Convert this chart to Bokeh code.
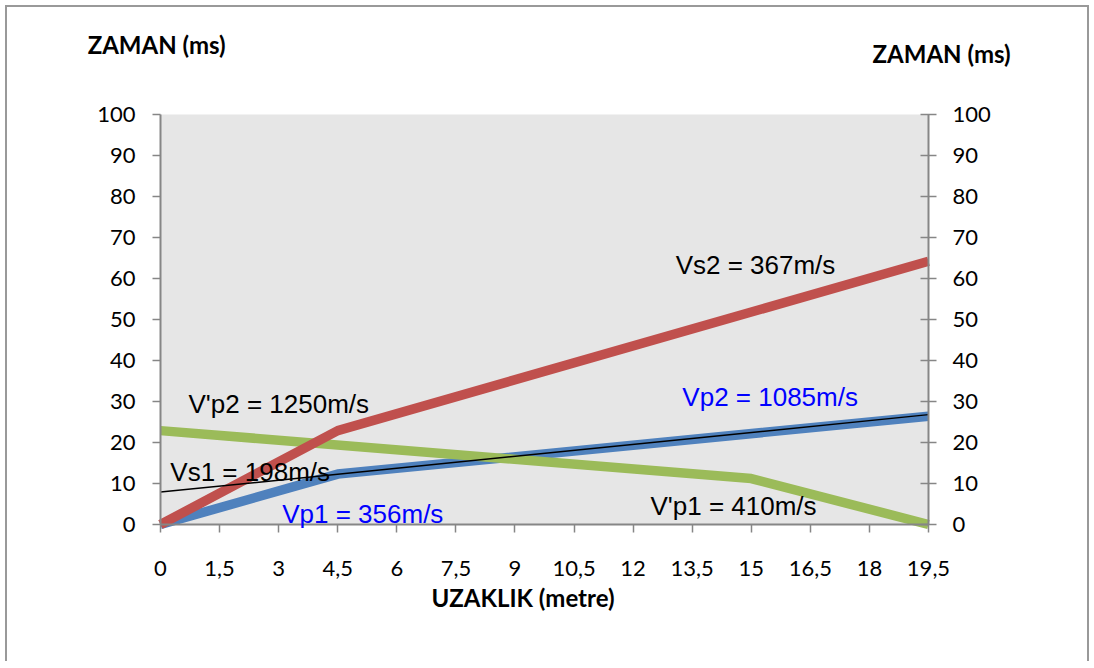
from bokeh.plotting import figure
from bokeh.models import (Range1d, LinearAxis, FixedTicker, SingleIntervalTicker, Label,
                          BoxAnnotation)
from bokeh.embed import file_html
from bokeh.resources import INLINE

# ---- data ----
x_ticks = [0, 1.5, 3, 4.5, 6, 7.5, 9, 10.5, 12, 13.5, 15, 16.5, 18, 19.5]
x_tick_labels = ["0", "1,5", "3", "4,5", "6", "7,5", "9", "10,5", "12", "13,5", "15", "16,5", "18", "19,5"]
y_min, y_max, y_step = 0, 100, 10
x_min, x_max = 0, 19.5

vp_x = [0, 4.5, 19.5]
vp_y = [0, 12.3, 26.4]

vs_x = [0, 4.5, 19.5]
vs_y = [0, 22.9, 64.2]

vpr_x = [0, 15, 19.5]
vpr_y = [22.9, 11.2, 0]

trend_x = [0, 19.5]
trend_y = [7.9, 26.8]

annotations = [
    ("Vs2 = 367m/s", 13.08, 63.3, "black"),
    ("Vp2 = 1085m/s", 13.25, 31.0, "#0000ff"),
    ("V'p2 = 1250m/s", 0.71, 29.4, "black"),
    ("Vs1 = 198m/s", 0.25, 12.9, "black"),
    ("Vp1 = 356m/s", 3.09, 2.56, "#0000ff"),
    ("V'p1 = 410m/s", 12.44, 4.6, "black"),
]

titles = [
    ("ZAMAN (ms)", -1.85, 117.1),
    ("ZAMAN (ms)", 18.08, 114.9),
    ("UZAKLIK (metre)", 6.88, -17.8),
]

AX = "#868686"
TICK_FONT = "Lato"

# frame covers the whole canvas; axes are drawn at fixed data locations
p = figure(width=1084, height=656, output_backend="svg", toolbar_location=None,
           x_range=Range1d(-3.8848, 23.6387), y_range=Range1d(-33.902, 126.098),
           x_axis_location=None, y_axis_location=None,
           min_border_left=0, min_border_right=0, min_border_top=0, min_border_bottom=0)
p.margin = (5, 0, 0, 5)
p.styles = {"border-top": "2px solid #999999", "border-left": "2px solid #999999",
            "border-right": "2px solid #999999"}
p.background_fill_color = "white"
p.border_fill_color = "white"
p.outline_line_color = None
p.grid.visible = False

p.add_layout(BoxAnnotation(left=x_min, right=x_max, bottom=y_min, top=y_max,
                           fill_color="#e6e6e6", fill_alpha=1, line_color=None, level="underlay"))

xa = LinearAxis(ticker=FixedTicker(ticks=x_ticks), fixed_location=y_min, bounds=(x_min, x_max))
xa.major_label_overrides = {float(t): l for t, l in zip(x_ticks, x_tick_labels)}
la = LinearAxis(ticker=SingleIntervalTicker(interval=y_step), fixed_location=x_min, bounds=(y_min, y_max))
ra = LinearAxis(ticker=SingleIntervalTicker(interval=y_step), fixed_location=x_max, bounds=(y_min, y_max))
p.add_layout(xa, "below")
p.add_layout(la, "left")
p.add_layout(ra, "right")

for ax in [xa, la, ra]:
    ax.axis_line_color = AX
    ax.axis_line_width = 2
    ax.major_tick_line_color = AX
    ax.major_tick_line_width = 1.5
    ax.major_tick_out = 8
    ax.major_tick_in = 0
    ax.minor_tick_line_color = None
    ax.major_label_text_font = TICK_FONT
    ax.major_label_text_font_size = "22px"
    ax.major_label_text_color = "black"
ra.major_tick_in = 8
xa.major_label_standoff = 28
la.major_label_standoff = 17
ra.major_label_standoff = 16

p.line(vp_x, vp_y, line_color="#4f81bd", line_width=9.5, line_join="round")
p.line(vpr_x, vpr_y, line_color="#9bbb59", line_width=9.5, line_join="round")
p.line(vs_x, vs_y, line_color="#c0504d", line_width=9.5, line_join="round")
p.line(trend_x, trend_y, line_color="black", line_width=1.5)

for txt, x, y, c in annotations:
    p.add_layout(Label(x=x, y=y, text=txt, text_color=c, text_font="Liberation Sans",
                       text_font_size="26px", text_baseline="alphabetic", text_align="left"))

for txt, x, y in titles:
    p.add_layout(Label(x=x, y=y, text=txt, text_font="Lato", text_font_style="bold",
                       text_color="black", text_font_size="24px",
                       text_baseline="alphabetic", text_align="left"))

open("out.html", "w").write(file_html(p, INLINE))
